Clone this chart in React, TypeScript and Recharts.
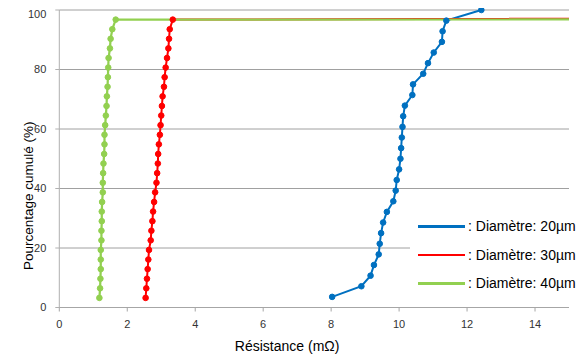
import { LineChart, Line, XAxis, YAxis, CartesianGrid, Legend } from 'recharts';

// résistance (mΩ) relevée pour chaque diamètre, triée
const resistance20 = [
  8.03, 8.89, 9.16, 9.26, 9.4, 9.43, 9.47, 9.53, 9.64, 9.83, 9.9, 9.93, 10.0, 10.04,
  10.06, 10.08, 10.1, 10.12, 10.17, 10.39, 10.41, 10.71, 10.85, 11.02, 11.26, 11.28, 11.39, 12.42,
];
const cumul20 = [
  3.57, 7.14, 10.71, 14.29, 17.86, 21.43, 25, 28.57, 32.14, 35.71, 39.29, 42.86, 46.43, 50,
  53.57, 57.14, 60.71, 64.29, 67.86, 71.43, 75, 78.57, 82.14, 85.71, 89.29, 92.86, 96.43, 100,
];

// le dernier échantillon est très loin hors de l'axe : la courbe sort à droite
const resistance30 = [
  2.54, 2.56, 2.58, 2.6, 2.62, 2.64, 2.69, 2.71, 2.74, 2.76, 2.79, 2.82, 2.86, 2.88, 2.9,
  2.91, 2.93, 2.96, 2.98, 3.0, 3.02, 3.04, 3.08, 3.1, 3.13, 3.17, 3.21, 3.23, 3.25, 3.34, 110,
];
const resistance40 = [
  1.18, 1.2, 1.21, 1.22, 1.22, 1.22, 1.24, 1.24, 1.25, 1.25, 1.26, 1.28, 1.28, 1.29, 1.3,
  1.32, 1.33, 1.33, 1.35, 1.37, 1.39, 1.4, 1.42, 1.43, 1.44, 1.45, 1.49, 1.51, 1.56, 1.66, 400,
];
const cumul3040 = [
  3.23, 6.45, 9.68, 12.9, 16.13, 19.35, 22.58, 25.81, 29.03, 32.26, 35.48, 38.71, 41.94, 45.16, 48.39,
  51.61, 54.84, 58.06, 61.29, 64.52, 67.74, 70.97, 74.19, 77.42, 80.65, 83.87, 87.1, 90.32, 93.55, 96.77, 100,
];

const xTicks = [0, 2, 4, 6, 8, 10, 12, 14];
const yTicks = [0, 20, 40, 60, 80, 100];

const font = '"Liberation Sans", Arial, sans-serif';

const toPoints = (xs: number[], ys: number[]) => xs.map((x, i) => ({ x, y: ys[i] }));

const series = [
  { name: ': Diamètre: 20µm', color: '#0070c0', width: 2, data: toPoints(resistance20, cumul20) },
  { name: ': Diamètre: 30µm', color: '#ff0000', width: 2, data: toPoints(resistance30, cumul3040) },
  { name: ': Diamètre: 40µm', color: '#92d050', width: 2.25, data: toPoints(resistance40, cumul3040) },
];

const renderLegend = (props: any) => (
  <div style={{ background: '#fff', width: 175, fontFamily: font, fontSize: 14, color: '#000', whiteSpace: 'nowrap' }}>
    {(props.payload || []).map((entry: any) => (
      <div key={entry.value} style={{ display: 'flex', alignItems: 'center', height: 28.5, paddingLeft: 8 }}>
        <span style={{ display: 'inline-block', width: 47, height: 2.5, background: entry.color, marginRight: 3 }} />
        <span>{entry.value}</span>
      </div>
    ))}
  </div>
);

export default function App() {
  return (
    <div style={{ fontFamily: font }}>
      <LineChart width={577} height={352} margin={{ top: 2, right: 16, left: 0, bottom: 0 }}>
        <CartesianGrid vertical={false} stroke="#a0a0a0" />
        <XAxis
          type="number"
          dataKey="x"
          domain={[0, 15]}
          ticks={xTicks}
          allowDataOverflow
          height={52.5}
          stroke="#a6a6a6"
          tickSize={4}
          tickMargin={9}
          tick={{ fill: '#333', fontSize: 11, fontFamily: font }}
          label={{ value: 'Résistance (mΩ)', position: 'insideBottom', offset: 9, dx: -27, fill: '#000', fontSize: 14, fontFamily: font }}
        />
        <YAxis
          type="number"
          dataKey="y"
          domain={[0, 100]}
          ticks={yTicks}
          width={51.3}
          stroke="#b0b0b0"
          tickSize={4}
          tickMargin={9}
          tick={{ fill: '#333', fontSize: 11, fontFamily: font }}
          label={{ value: 'Pourcentage cumulé (%)', position: 'center', angle: -90, dx: -5.5, dy: 37, fill: '#000', fontSize: 13.5, fontFamily: font }}
        />
        <Legend
          content={renderLegend}
          layout="horizontal"
          align="center"
          verticalAlign="middle"
          wrapperStyle={{ left: 402, top: 204, width: 175 }}
        />
        {series.map((s) => (
          <Line
            key={s.name}
            name={s.name}
            data={s.data}
            dataKey="y"
            type="linear"
            stroke={s.color}
            strokeWidth={s.width}
            dot={{ r: 2.8, fill: s.color, stroke: s.color, strokeWidth: 1 }}
            activeDot={false}
            isAnimationActive={false}
          />
        ))}
      </LineChart>
    </div>
  );
}
